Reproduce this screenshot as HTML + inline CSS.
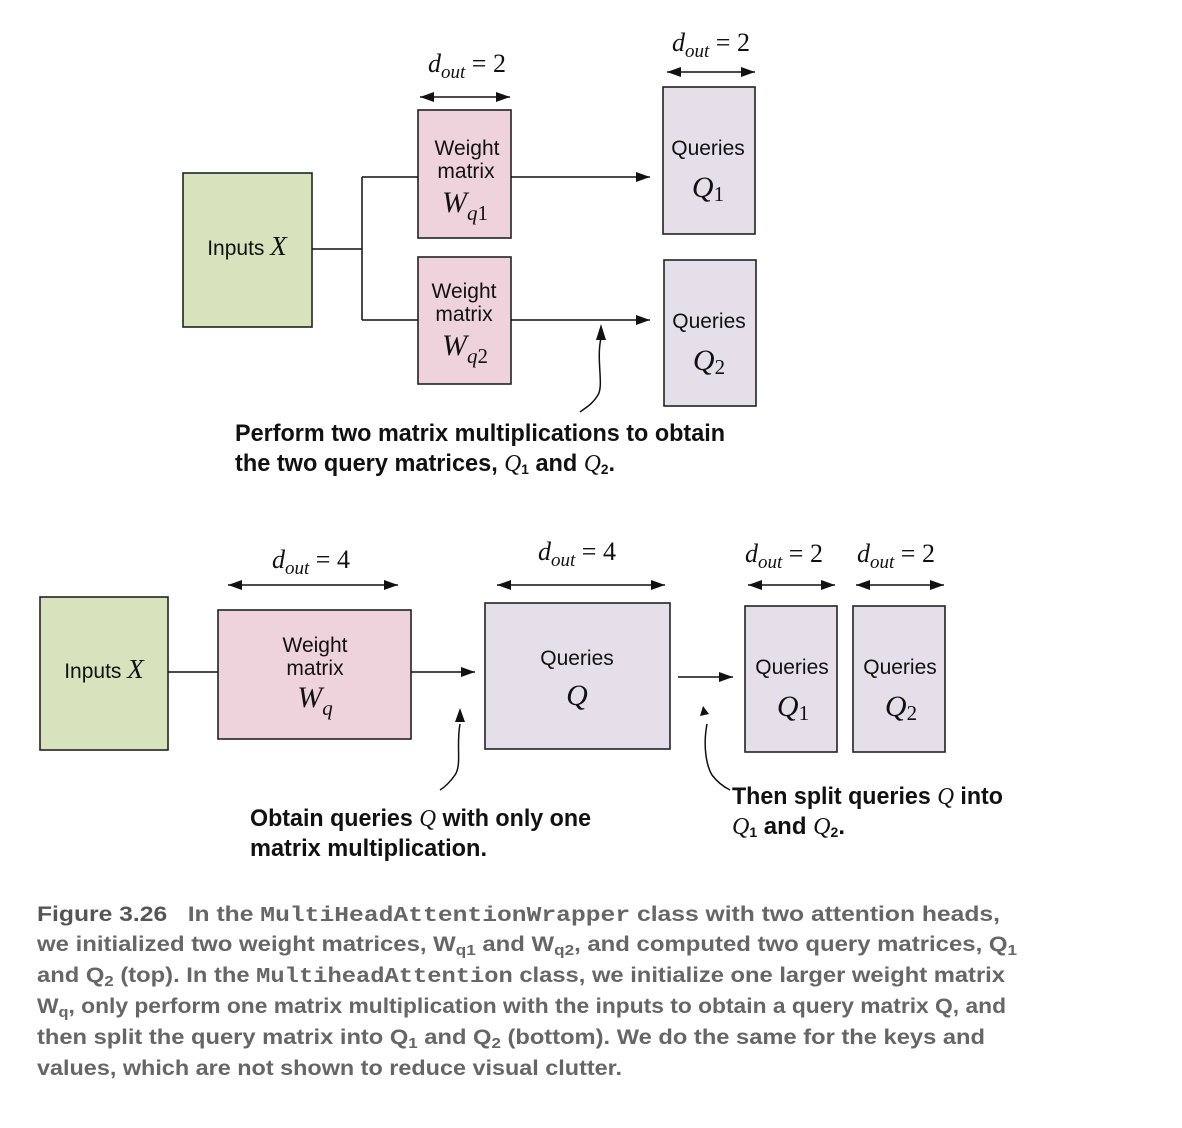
<!DOCTYPE html>
<html><head><meta charset="utf-8"><style>
body{margin:0;background:#fff;width:1182px;height:1128px;overflow:hidden}
svg{position:absolute;left:0;top:0}
.s{font-family:"Liberation Sans",sans-serif;font-size:21px;fill:#111}
.m{font-family:"Liberation Serif",serif;font-style:italic;fill:#111}
.a{font-family:"Liberation Sans",sans-serif;font-weight:bold;font-size:24px;fill:#111}
.c{font-family:"Liberation Sans",sans-serif;font-weight:bold;font-size:21px;fill:#666}
.c .k{fill:#555}
.c .mo{font-family:"Liberation Mono",monospace}
</style></head><body>
<svg width="1182" height="1128" viewBox="0 0 1182 1128">
<defs>
<marker id="ah" markerWidth="16" markerHeight="10" refX="14" refY="5" orient="auto" markerUnits="userSpaceOnUse"><path d="M0,0L14,5L0,10z" fill="#111"/></marker>
<marker id="as" markerWidth="16" markerHeight="10" refX="0" refY="5" orient="auto" markerUnits="userSpaceOnUse"><path d="M14,0L0,5L14,10z" fill="#111"/></marker>
</defs>
<g stroke="#222" stroke-width="1.6">
<rect x="183" y="173" width="129" height="154" fill="#d6e3bd"/>
<rect x="418" y="110" width="93" height="128" fill="#efd3dc"/>
<rect x="418" y="257" width="93" height="127" fill="#efd3dc"/>
<rect x="663" y="87" width="92" height="147" fill="#e4dfe8"/>
<rect x="664" y="260" width="92" height="146" fill="#e4dfe8"/>
<rect x="40" y="597" width="128" height="153" fill="#d6e3bd"/>
<rect x="218" y="610" width="193" height="129" fill="#efd3dc"/>
<rect x="485" y="603" width="185" height="146" fill="#e4dfe8"/>
<rect x="745" y="606" width="92" height="146" fill="#e4dfe8"/>
<rect x="853" y="606" width="92" height="146" fill="#e4dfe8"/>
</g>
<g stroke="#111" stroke-width="1.5" fill="none">
<path d="M312,249H362M362,177V320M362,177H418M362,320H418"/>
<path d="M511,177H650" marker-end="url(#ah)"/>
<path d="M511,320H650" marker-end="url(#ah)"/>
<path d="M420,97H510" marker-start="url(#as)" marker-end="url(#ah)"/>
<path d="M667,72H755" marker-start="url(#as)" marker-end="url(#ah)"/>
<path d="M601,338C596,360 604,385 598,395C592,405 585,408 580,412"/>
<path d="M168,672H218"/>
<path d="M411,672H475" marker-end="url(#ah)"/>
<path d="M678,677H733" marker-end="url(#ah)"/>
<path d="M228,585H398" marker-start="url(#as)" marker-end="url(#ah)"/>
<path d="M497,585H665" marker-start="url(#as)" marker-end="url(#ah)"/>
<path d="M748,585H835" marker-start="url(#as)" marker-end="url(#ah)"/>
<path d="M856,585H944" marker-start="url(#as)" marker-end="url(#ah)"/>
<path d="M460,724C456,745 462,765 455,775C450,782 445,787 440,790"/>
<path d="M707,724C703,745 706,765 712,775C718,783 724,787 730,790"/>
</g>
<path d="M601,324L596,340L606,340z" fill="#111"/>
<path d="M460,708L455,722L465,722z" fill="#111"/>
<path d="M703,706L700,716L709,714z" fill="#111"/>
<g text-anchor="middle">
<text x="467" y="155" class="s">Weight</text><text x="466" y="178" class="s">matrix</text>
<text x="465" y="212" class="m" font-size="30">W<tspan font-size="21" dy="8">q</tspan><tspan font-size="21" font-style="normal">1</tspan></text>
<text x="464" y="298" class="s">Weight</text><text x="464" y="321" class="s">matrix</text>
<text x="465" y="355" class="m" font-size="30">W<tspan font-size="21" dy="8">q</tspan><tspan font-size="21" font-style="normal">2</tspan></text>
<text x="708" y="155" class="s">Queries</text>
<text x="708" y="197" class="m" font-size="30">Q<tspan font-size="21" font-style="normal" dy="4">1</tspan></text>
<text x="709" y="328" class="s">Queries</text>
<text x="709" y="370" class="m" font-size="30">Q<tspan font-size="21" font-style="normal" dy="4">2</tspan></text>
<text x="247" y="255" class="s" font-size="23">Inputs <tspan class="m" font-size="27">X</tspan></text>
<text x="104" y="678" class="s" font-size="23">Inputs <tspan class="m" font-size="27">X</tspan></text>
<text x="315" y="652" class="s">Weight</text><text x="315" y="675" class="s">matrix</text>
<text x="315" y="707" class="m" font-size="30">W<tspan font-size="21" dy="8">q</tspan></text>
<text x="577" y="665" class="s">Queries</text>
<text x="577" y="705" class="m" font-size="30">Q</text>
<text x="792" y="674" class="s">Queries</text>
<text x="793" y="716" class="m" font-size="30">Q<tspan font-size="21" font-style="normal" dy="4">1</tspan></text>
<text x="900" y="674" class="s">Queries</text>
<text x="901" y="716" class="m" font-size="30">Q<tspan font-size="21" font-style="normal" dy="4">2</tspan></text>
</g>
<g font-family="Liberation Serif,serif" font-size="26" fill="#111">
<text x="428" y="72"><tspan font-style="italic">d</tspan><tspan font-style="italic" font-size="19" dy="6">out</tspan><tspan dy="-6"> = 2</tspan></text>
<text x="672" y="51"><tspan font-style="italic">d</tspan><tspan font-style="italic" font-size="19" dy="6">out</tspan><tspan dy="-6"> = 2</tspan></text>
<text x="272" y="568"><tspan font-style="italic">d</tspan><tspan font-style="italic" font-size="19" dy="6">out</tspan><tspan dy="-6"> = 4</tspan></text>
<text x="538" y="560"><tspan font-style="italic">d</tspan><tspan font-style="italic" font-size="19" dy="6">out</tspan><tspan dy="-6"> = 4</tspan></text>
<text x="745" y="562"><tspan font-style="italic">d</tspan><tspan font-style="italic" font-size="19" dy="6">out</tspan><tspan dy="-6"> = 2</tspan></text>
<text x="857" y="562"><tspan font-style="italic">d</tspan><tspan font-style="italic" font-size="19" dy="6">out</tspan><tspan dy="-6"> = 2</tspan></text>
</g>
<text x="235" y="441" class="a" textLength="490" lengthAdjust="spacingAndGlyphs">Perform two matrix multiplications to obtain</text>
<text x="235" y="471" class="a" textLength="380" lengthAdjust="spacingAndGlyphs">the two query matrices, <tspan class="m" font-weight="normal">Q</tspan><tspan font-size="14" dy="3">1</tspan><tspan dy="-3"> and </tspan><tspan class="m" font-weight="normal">Q</tspan><tspan font-size="14" dy="3">2</tspan><tspan dy="-3">.</tspan></text>
<text x="250" y="826" class="a" textLength="341" lengthAdjust="spacingAndGlyphs">Obtain queries <tspan class="m" font-weight="normal">Q</tspan> with only one</text>
<text x="250" y="856" class="a" textLength="237" lengthAdjust="spacingAndGlyphs">matrix multiplication.</text>
<text x="732" y="804" class="a" textLength="271" lengthAdjust="spacingAndGlyphs">Then split queries <tspan class="m" font-weight="normal">Q</tspan> into</text>
<text x="732" y="834" class="a" textLength="113" lengthAdjust="spacingAndGlyphs"><tspan class="m" font-weight="normal">Q</tspan><tspan font-size="14" dy="3">1</tspan><tspan dy="-3"> and </tspan><tspan class="m" font-weight="normal">Q</tspan><tspan font-size="14" dy="3">2</tspan><tspan dy="-3">.</tspan></text>
<g class="c">
<text x="37" y="921" textLength="963" lengthAdjust="spacingAndGlyphs"><tspan class="k">Figure 3.26</tspan>&#160;&#160; In the <tspan class="mo">MultiHeadAttentionWrapper</tspan> class with two attention heads,</text>
<text x="37" y="951" textLength="980" lengthAdjust="spacingAndGlyphs">we initialized two weight matrices, W<tspan font-size="15" dy="4">q1</tspan><tspan dy="-4"> and W</tspan><tspan font-size="15" dy="4">q2</tspan><tspan dy="-4">, and computed two query matrices, Q</tspan><tspan font-size="15" dy="4">1</tspan></text>
<text x="37" y="982" textLength="968" lengthAdjust="spacingAndGlyphs">and Q<tspan font-size="15" dy="4">2</tspan><tspan dy="-4"> (top). In the </tspan><tspan class="mo">MultiheadAttention</tspan> class, we initialize one larger weight matrix</text>
<text x="37" y="1013" textLength="969" lengthAdjust="spacingAndGlyphs">W<tspan font-size="15" dy="4">q</tspan><tspan dy="-4">, only perform one matrix multiplication with the inputs to obtain a query matrix Q, and</tspan></text>
<text x="37" y="1044" textLength="948" lengthAdjust="spacingAndGlyphs">then split the query matrix into Q<tspan font-size="15" dy="4">1</tspan><tspan dy="-4"> and Q</tspan><tspan font-size="15" dy="4">2</tspan><tspan dy="-4"> (bottom). We do the same for the keys and</tspan></text>
<text x="37" y="1075" textLength="585" lengthAdjust="spacingAndGlyphs">values, which are not shown to reduce visual clutter.</text>
</g>
</svg>
</body></html>
